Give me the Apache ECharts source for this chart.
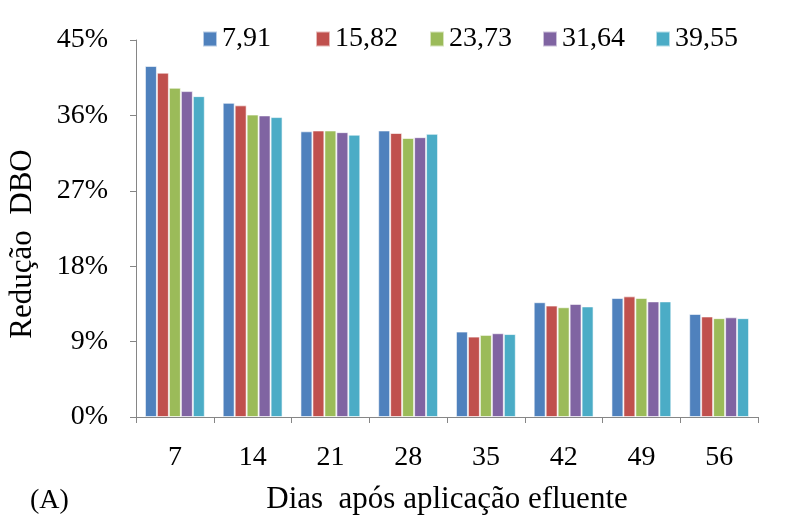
<!DOCTYPE html>
<html>
<head>
<meta charset="utf-8">
<script src="https://cdn.jsdelivr.net/npm/echarts@6/dist/echarts.min.js"></script>
<style>
html, body { margin: 0; padding: 0; background: #fff; }
#chart { width: 803px; height: 520px; }
</style>
</head>
<body>
<div id="chart"></div>
<script>
var dias = ['7', '14', '21', '28', '35', '42', '49', '56'];
var doses = ['7,91', '15,82', '23,73', '31,64', '39,55'];
var d791  = [41.9, 37.5, 34.1, 34.2, 10.2, 13.7, 14.2, 12.3];
var d1582 = [41.1, 37.2, 34.2, 33.9,  9.6, 13.3, 14.4, 12.0];
var d2373 = [39.3, 36.1, 34.2, 33.3,  9.8, 13.1, 14.2, 11.8];
var d3164 = [38.9, 36.0, 34.0, 33.4, 10.0, 13.5, 13.8, 11.9];
var d3955 = [38.3, 35.8, 33.7, 33.8,  9.9, 13.2, 13.8, 11.8];
var valores = [d791, d1582, d2373, d3164, d3955];
var cores = ['#4F81BD', '#C0504D', '#9BBB59', '#8064A2', '#4BACC6'];
var fonte = '"Liberation Serif", "Times New Roman", serif';

var chart = echarts.init(document.getElementById('chart'));
var series = [];
var legends = [];
for (var i = 0; i < doses.length; i++) {
    series.push({
        name: doses[i],
        type: 'bar',
        data: valores[i],
        barGap: '0%',
        barCategoryGap: '23%',
        itemStyle: { color: cores[i], borderColor: 'rgba(255,255,255,0.6)', borderWidth: 1 }
    });
    // um legend por item, para espaçar igual ao Excel
    legends.push({
        top: 20,
        left: 197 + Math.round(113.3 * i),
        itemWidth: 14,
        itemHeight: 15,
        icon: 'rect',
        textStyle: { fontFamily: fonte, fontSize: 28, color: '#000' },
        data: [doses[i]]
    });
}
var option = {
    animation: false,
    color: cores,
    textStyle: { fontFamily: fonte },
    legend: legends,
    grid: { left: 136, right: 45, top: 40, bottom: 100 },
    xAxis: {
        type: 'category',
        data: dias,
        axisLine: { lineStyle: { color: '#868686' } },
        axisTick: { show: true, length: 6, lineStyle: { color: '#868686' } },
        axisLabel: { fontFamily: fonte, fontSize: 28, color: '#000', margin: 27 },
        name: 'Dias  após aplicação efluente',
        nameLocation: 'middle',
        nameGap: 67,
        nameTextStyle: { fontFamily: fonte, fontSize: 31, color: '#000' }
    },
    yAxis: {
        type: 'value',
        min: 0,
        max: 45,
        interval: 9,
        splitLine: { show: false },
        axisLine: { show: true, lineStyle: { color: '#868686' } },
        axisTick: { show: true, length: 6, lineStyle: { color: '#868686' } },
        axisLabel: { fontFamily: fonte, fontSize: 28, color: '#000', margin: 28, formatter: '{value}%' }
    },
    graphic: [{
        type: 'text',
        x: 23,
        y: 244,
        rotation: Math.PI / 2,
        style: { text: 'Redução  DBO', font: '31px ' + fonte, fill: '#000', align: 'center', verticalAlign: 'middle' }
    }, {
        type: 'text',
        left: 30,
        top: 487,
        style: { text: '(A)', font: '28px ' + fonte, fill: '#000' }
    }],
    series: series
};
chart.setOption(option);
</script>
</body>
</html>
